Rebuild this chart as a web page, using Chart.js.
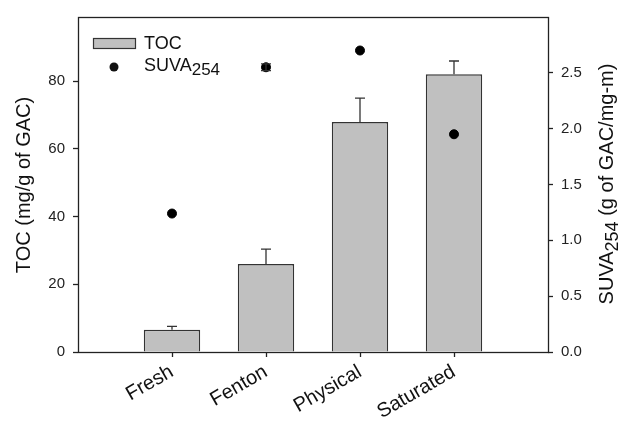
<!DOCTYPE html>
<html>
<head>
<meta charset="utf-8">
<script src="https://cdn.jsdelivr.net/npm/chart.js"></script>
<style>
  body { margin: 0; background: #fff; }
  #wrap { width: 621px; height: 422px; }
</style>
</head>
<body>
<div id="wrap"><canvas id="myChart"></canvas></div>
<script>
const categories = ['Fresh', 'Fenton', 'Physical', 'Saturated'];
const tocValues = [6.6, 26.0, 68.0, 82.1];
const tocErrors = [1.0, 4.4, 7.0, 3.9];
const suvaValues = [1.24, 2.55, 2.70, 1.95];
const suvaErrors = [0, 0.03, 0, 0];
const tocTicks = [0, 20, 40, 60, 80];
const suvaTicks = [0, 0.5, 1.0, 1.5, 2.0, 2.5];

// blank slot at each end so the four groups sit at 1..4 of 0..5
const xLabels = [''].concat(categories, ['']);
const pad = arr => [null].concat(arr, [null]);

const FONT = "'Liberation Sans', Arial, sans-serif";

const errorBars = {
    id: 'errorBars',
    afterDatasetsDraw(chart) {
        const ctx = chart.ctx;
        ctx.save();
        ctx.strokeStyle = '#333';
        ctx.lineWidth = 1.3;
        chart.data.datasets.forEach((ds, i) => {
            if (!ds.errors) return;
            const meta = chart.getDatasetMeta(i);
            const yScale = chart.scales[meta.yAxisID];
            meta.data.forEach((el, j) => {
                const v = ds.data[j];
                const e = ds.errors[j];
                if (v == null || !e) return;
                const yTop = yScale.getPixelForValue(v + e);
                const yBot = ds.type === 'bar' ? el.y : yScale.getPixelForValue(v - e);
                ctx.beginPath();
                ctx.moveTo(el.x, yBot);
                ctx.lineTo(el.x, yTop);
                ctx.moveTo(el.x - 5, yTop);
                ctx.lineTo(el.x + 5, yTop);
                if (ds.type !== 'bar') {
                    ctx.moveTo(el.x - 5, yBot);
                    ctx.lineTo(el.x + 5, yBot);
                }
                ctx.stroke();
            });
        });
        ctx.restore();
    }
};

const decorations = {
    id: 'decorations',
    afterDraw(chart) {
        const ctx = chart.ctx;
        const a = chart.chartArea;
        ctx.save();
        // frame
        ctx.strokeStyle = '#222';
        ctx.lineWidth = 1.3;
        ctx.strokeRect(Math.round(a.left) + 0.5, Math.round(a.top) + 0.5,
            Math.round(a.right - a.left), Math.round(a.bottom - a.top));

        ctx.fillStyle = '#111';
        ctx.textBaseline = 'alphabetic';

        // left axis title
        ctx.save();
        ctx.translate(30, 185);
        ctx.rotate(-Math.PI / 2);
        ctx.font = '20px ' + FONT;
        ctx.textAlign = 'center';
        ctx.fillText('TOC (mg/g of GAC)', 0, 0);
        ctx.restore();

        // right axis title with subscript
        ctx.save();
        ctx.translate(613, 184);
        ctx.rotate(-Math.PI / 2);
        ctx.textAlign = 'left';
        const main = '20px ' + FONT, sub = '18px ' + FONT;
        ctx.font = main; const w1 = ctx.measureText('SUVA').width;
        ctx.font = sub; const w2 = ctx.measureText('254').width;
        ctx.font = main; const w3 = ctx.measureText(' (g of GAC/mg-m)').width;
        let x = -(w1 + w2 + w3) / 2;
        ctx.font = main; ctx.fillText('SUVA', x, 0); x += w1;
        ctx.font = sub; ctx.fillText('254', x, 5); x += w2;
        ctx.font = main; ctx.fillText(' (g of GAC/mg-m)', x, 0);
        ctx.restore();

        // legend
        ctx.fillStyle = '#c0c0c0';
        ctx.fillRect(93.5, 38.5, 42, 10);
        ctx.strokeStyle = '#333';
        ctx.lineWidth = 1.2;
        ctx.strokeRect(93.5, 38.5, 42, 10);
        ctx.fillStyle = '#111';
        ctx.font = '18px ' + FONT;
        ctx.fillText('TOC', 144, 49);
        ctx.beginPath();
        ctx.arc(114, 67, 4.5, 0, Math.PI * 2);
        ctx.fill();
        ctx.fillText('SUVA', 144, 71);
        const ws = ctx.measureText('SUVA').width;
        ctx.font = '17px ' + FONT;
        ctx.fillText('254', 144 + ws, 75);
        ctx.restore();
    }
};

const ctx = document.getElementById('myChart');
const myChart = new Chart(ctx, {
    data: {
        labels: xLabels,
        datasets: [{
            type: 'line',
            label: 'SUVA254',
            data: pad(suvaValues),
            errors: pad(suvaErrors),
            yAxisID: 'y1',
            showLine: false,
            pointRadius: 4.5,
            pointHoverRadius: 4.5,
            pointBackgroundColor: '#000',
            pointBorderColor: '#000',
            order: 0
        }, {
            type: 'bar',
            label: 'TOC',
            data: pad(tocValues),
            errors: pad(tocErrors),
            yAxisID: 'y',
            backgroundColor: '#c0c0c0',
            borderColor: '#333',
            borderWidth: 1.5,
            barPercentage: 0.6,
            categoryPercentage: 1.0,
            order: 1
        }]
    },
    options: {
        responsive: true,
        maintainAspectRatio: false,
        animation: false,
        layout: { padding: { top: 16, left: 0, right: 0, bottom: 0 } },
        plugins: {
            legend: { display: false },
            tooltip: { enabled: false }
        },
        scales: {
            x: {
                type: 'category',
                offset: false,
                afterFit: s => { s.height = 70; },
                border: { display: false },
                grid: {
                    offset: false,
                    drawOnChartArea: false,
                    tickLength: 5,
                    tickWidth: 1.3,
                    tickColor: c => (c.index === 0 || c.index === xLabels.length - 1) ? 'rgba(0,0,0,0)' : '#222'
                },
                ticks: {
                    autoSkip: false,
                    minRotation: 30,
                    maxRotation: 30,
                    padding: 3,
                    color: '#111',
                    font: { family: FONT, size: 20 }
                }
            },
            y: {
                position: 'left',
                min: 0,
                max: 99,
                afterFit: s => { s.width = 78; },
                afterBuildTicks: s => { s.ticks = tocTicks.map(v => ({ value: v })); },
                border: { display: false },
                grid: { drawOnChartArea: false, tickLength: 5, tickWidth: 1.3, tickColor: '#222' },
                ticks: {
                    padding: 8,
                    color: '#222',
                    font: { family: FONT, size: 15 }
                }
            },
            y1: {
                position: 'right',
                min: 0,
                max: 3.0,
                afterFit: s => { s.width = 73; },
                afterBuildTicks: s => { s.ticks = suvaTicks.map(v => ({ value: v })); },
                border: { display: false },
                grid: { drawOnChartArea: false, tickLength: 5, tickWidth: 1.3, tickColor: '#222' },
                ticks: {
                    padding: 8,
                    color: '#222',
                    font: { family: FONT, size: 15 },
                    callback: v => v.toFixed(1)
                }
            }
        }
    },
    plugins: [errorBars, decorations]
});
</script>
</body>
</html>
